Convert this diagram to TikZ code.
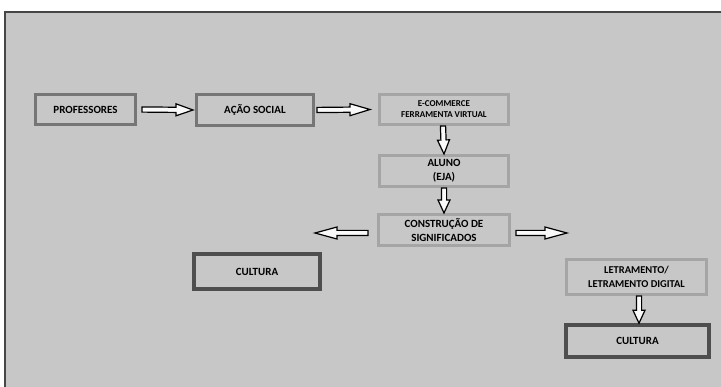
\documentclass[tikz,border=0pt]{standalone}
\usepackage{fontspec}
\setmainfont{Carlito}
\usepackage{tikz}
\usetikzlibrary{calc}

\definecolor{fundo}{RGB}{199,199,199}
\definecolor{moldura}{RGB}{70,70,70}
\definecolor{bordamedia}{RGB}{118,118,118}
\definecolor{bordaclara}{RGB}{165,165,165}
\definecolor{bordaescura}{RGB}{78,78,78}

\begin{document}
\begin{tikzpicture}[x=1pt, y=-1pt,
		caixa/.style={draw, line width=3pt, inner sep=0pt, align=center,
			font=\bfseries\fontsize{11}{14}\selectfont},
		media/.style={caixa, draw=bordamedia},
		clara/.style={caixa, draw=bordaclara},
		escura/.style={caixa, draw=bordaescura, line width=3.5pt},
		seta/.style={draw=black, fill=white!90!fundo, line width=1.2pt, line join=miter,
			to path={let \p1=($(\tikztotarget)!#1!(\tikztostart)$) in
				($(\tikztostart)!2.6pt!90:(\tikztotarget)$)
				-- ($(\p1)!2.6pt!90:(\tikztotarget)$)
				-- ($(\p1)!6pt!90:(\tikztotarget)$)
				-- (\tikztotarget)
				-- ($(\p1)!6pt!-90:(\tikztotarget)$)
				-- ($(\p1)!2.6pt!-90:(\tikztotarget)$)
				-- ($(\tikztostart)!2.6pt!-90:(\tikztotarget)$)
				-- cycle}},
		seta/.default=18pt]
			\useasboundingbox (0,0) rectangle (721,387);
			\fill[fundo] (5,12) rectangle (721,387);
			\draw[moldura, line width=1.5pt] (5,387) -- (5,12) -- (721,12);

			\node[media, minimum width=100, minimum height=30] (prof) at (85.5,109.5) {PROFESSORES};
			\node[media, minimum width=117, minimum height=31] (acao) at (255,110) {AÇÃO SOCIAL};
			\node[clara, minimum width=129, minimum height=30, font=\bfseries\fontsize{9}{11}\selectfont] (ecom) at (444,109.5) {E-COMMERCE\\FERRAMENTA VIRTUAL};
			\node[clara, minimum width=129, minimum height=31] (aluno) at (444,171) {ALUNO\\(EJA)};
			\node[clara, minimum width=131, minimum height=31] (constr) at (444,230) {CONSTRUÇÃO DE\\SIGNIFICADOS};
			\node[escura, minimum width=126, minimum height=35] (cultL) at (257,271.5) {CULTURA};
			\node[clara, minimum width=140, minimum height=35, font=\bfseries\fontsize{10.5}{14}\selectfont] (letr) at (636.5,277) {LETRAMENTO/\\LETRAMENTO DIGITAL};
			\node[escura, minimum width=143, minimum height=32] (cultR) at (637.5,341) {CULTURA};

			\coordinate (esq) at (315,233);
			\coordinate (dir) at (567,233);

			\draw[seta=17pt] ([xshift=5pt]prof.east) to ([xshift=-2pt]acao.west);
			\draw[seta=20pt] ([xshift=2pt]acao.east) to ([xshift=-8pt]ecom.west);
			\draw[seta=14pt] ([xshift=-1pt]ecom.south) to (aluno.north);
			\draw[seta=13pt] (aluno.south) to (constr.north);
			\draw[seta=22pt] ([xshift=-9pt,yshift=-3pt]constr.west) to (esq);
			\draw[seta=22pt] ([xshift=5pt,yshift=-3pt]constr.east) to (dir);
			\draw[seta=13pt] ([xshift=2.5pt]letr.south) to ([xshift=1.5pt]cultR.north);
		\end{tikzpicture}
\end{document}
